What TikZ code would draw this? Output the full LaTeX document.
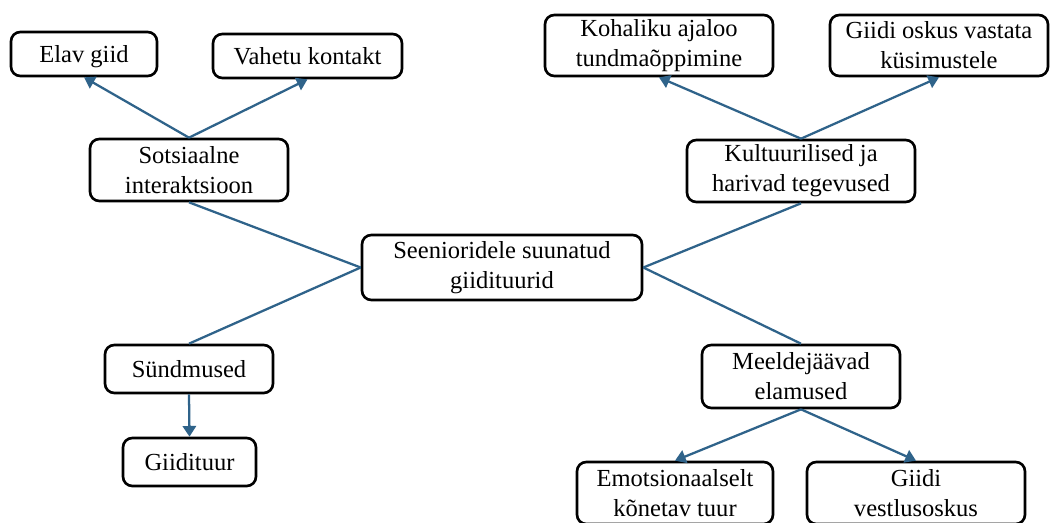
\documentclass[tikz,border=0pt]{standalone}
\usepackage{fontspec}
\setmainfont{Liberation Serif}
\usetikzlibrary{arrows.meta}
\definecolor{linkblue}{RGB}{47,99,138}
\begin{document}
\begin{tikzpicture}[x=0.75pt,y=-0.75pt,
  box/.style={draw=black, line width=2pt, rounded corners=7pt, align=center, inner sep=0pt,
    font=\fontsize{18.4}{22.5}\selectfont},
  onebox/.style={box, text depth=0pt},
  link/.style={draw=linkblue, line width=1.7pt},
  arr/.style={link, -{Triangle[length=8pt,width=10pt]}}]
\clip (0,0) rectangle (1054,522);
\fill[white] (0,0) rectangle (1054,522);

\node[onebox, minimum width=109.5pt, minimum height=33pt] (elav) at (84,54) {Elav giid};
\node[onebox, minimum width=141.75pt, minimum height=33pt] (vahetu) at (307.5,56) {Vahetu kontakt};
\node[box, minimum width=148.5pt, minimum height=46.5pt] (sots) at (189,170) {Sotsiaalne\\interaktsioon};
\node[box, minimum width=210pt, minimum height=48.75pt] (center) at (502,267.5) {Seenioridele suunatud\\giidituurid};
\node[box, minimum width=171pt, minimum height=45.75pt] (kohal) at (659,45.5) {Kohaliku ajaloo\\tundmaõppimine};
\node[box, minimum width=163.5pt, minimum height=45.75pt] (oskus) at (939,45.5) {Giidi oskus vastata\\küsimustele};
\node[box, minimum width=171pt, minimum height=46.5pt] (kult) at (801,171) {Kultuurilised ja\\harivad tegevused};
\node[onebox, minimum width=126pt, minimum height=36pt] (sund) at (189,369) {Sündmused};
\node[onebox, minimum width=99.75pt, minimum height=36pt] (tuur) at (189.5,462) {Giidituur};
\node[box, minimum width=148.5pt, minimum height=47.25pt] (meel) at (801,376.5) {Meeldejäävad\\elamused};
\node[box, minimum width=147pt, minimum height=46.5pt] (emo) at (675,493) {Emotsionaalselt\\kõnetav tuur};
\node[box, minimum width=163.5pt, minimum height=46.5pt] (vest) at (916,493) {Giidi\\vestlusoskus};

\draw[link] (sots.south) -- (center.west);
\draw[link] (sund.north) -- (center.west);
\draw[link] (kult.south) -- (center.east);
\draw[link] (meel.north) -- (center.east);

\draw[arr] (sots.north) -- (elav.south);
\draw[arr] (sots.north) -- (vahetu.south);
\draw[arr] (kult.north) -- (kohal.south);
\draw[arr] (kult.north) -- (oskus.south);
\draw[arr] (sund.south) -- (tuur.north);
\draw[arr] (meel.south) -- (emo.north);
\draw[arr] (meel.south) -- (vest.north);
\end{tikzpicture}
\end{document}
